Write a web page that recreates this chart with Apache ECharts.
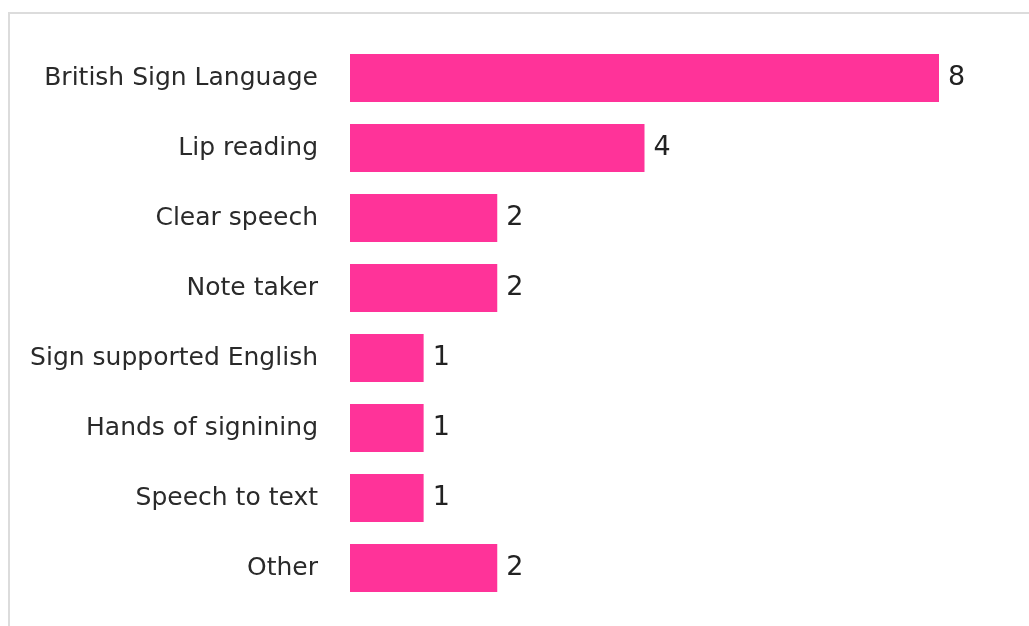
<!DOCTYPE html>
<html>
<head>
<meta charset="utf-8">
<script src="https://cdn.jsdelivr.net/npm/echarts@6/dist/echarts.min.js"></script>
<style>html,body{margin:0;padding:0;background:#fff}#c{width:1029px;height:626px}</style>
</head>
<body>
<div id="c"></div>
<script>
const categories = ["British Sign Language","Lip reading","Clear speech","Note taker","Sign supported English","Hands of signining","Speech to text","Other"];
const values = [8,4,2,2,1,1,1,2];

const chart = echarts.init(document.getElementById('c'));
chart.setOption({
  animation: false,
  backgroundColor: '#fff',
  graphic: [{
    type: 'rect', shape: {x: 9, y: 13, width: 1040, height: 640},
    style: {fill: 'none', stroke: '#dcdcdc', lineWidth: 2}, silent: true
  }],
  grid: {left: 350, right: 90, top: 43, bottom: 23, containLabel: false},
  xAxis: {type: 'value', min: 0, max: 8, show: false},
  yAxis: {
    type: 'category', data: categories, inverse: true,
    axisLine: {show: false}, axisTick: {show: false}, splitLine: {show: false},
    axisLabel: {fontFamily: 'DejaVu Sans', fontSize: 25, color: '#2a2a2a', margin: 32}
  },
  series: [{
    type: 'bar', data: values, barWidth: 48,
    itemStyle: {color: '#ff3399'},
    label: {show: true, position: 'right', distance: 9, fontFamily: 'DejaVu Sans', fontSize: 27, color: '#222'}
  }]
});
</script>
</body>
</html>
